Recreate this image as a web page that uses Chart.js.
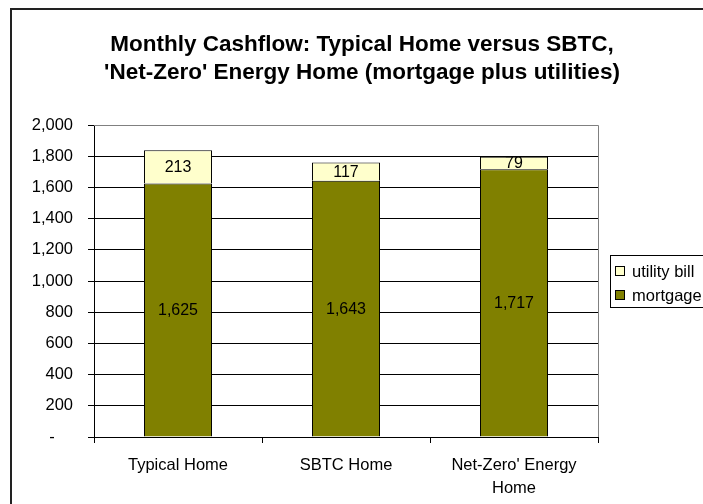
<!DOCTYPE html>
<html>
<head>
<meta charset="utf-8">
<script src="https://cdn.jsdelivr.net/npm/chart.js@4"></script>
<style>
  html, body { margin: 0; padding: 0; background: #fff; }
  #wrap { width: 703px; height: 504px; }
</style>
</head>
<body>
<div id="wrap"><canvas id="chart" width="703" height="504"></canvas></div>
<script>
const categories = ['Typical Home', 'SBTC Home', ["Net-Zero' Energy", 'Home']];
const mortgage = [1625, 1643, 1717];
const utilityBill = [213, 117, 79];
const titleLines = ["Monthly Cashflow: Typical Home versus SBTC,", "'Net-Zero' Energy Home (mortgage plus utilities)"];

const FONT = "'Liberation Sans', Arial, sans-serif";
Chart.defaults.font.family = FONT;
Chart.defaults.color = '#000';

// frame, title, legend and segment labels drawn by hand
const decor = {
  id: 'decor',
  beforeDraw(chart) {
    const ctx = chart.ctx;
    ctx.save();
    ctx.strokeStyle = '#222';
    ctx.lineWidth = 2;
    ctx.beginPath();
    ctx.moveTo(11, 520); ctx.lineTo(11, 9); ctx.lineTo(720, 9);
    ctx.stroke();
    ctx.fillStyle = '#000';
    ctx.font = 'bold 22.5px ' + FONT;
    ctx.textAlign = 'center';
    ctx.textBaseline = 'alphabetic';
    ctx.fillText(titleLines[0], 362, 51);
    ctx.fillText(titleLines[1], 362, 79);
    ctx.restore();
  },
  afterDatasetsDraw(chart) {
    const ctx = chart.ctx;
    const a = chart.chartArea;
    ctx.save();
    // plot area border (top + right in grey)
    ctx.strokeStyle = '#808080';
    ctx.lineWidth = 1;
    ctx.beginPath();
    ctx.moveTo(a.left, a.top + 0.5); ctx.lineTo(a.right + 0.5, a.top + 0.5); ctx.lineTo(a.right + 0.5, a.bottom);
    ctx.stroke();

    ctx.fillStyle = '#000';
    ctx.font = '16px ' + FONT;
    ctx.textAlign = 'center';
    ctx.textBaseline = 'middle';
    chart.data.datasets.forEach((ds, i) => {
      chart.getDatasetMeta(i).data.forEach((el, j) => {
        ctx.fillText(ds.data[j].toLocaleString('en-US'), el.x, (el.y + el.base) / 2 + 1);
      });
    });

    // legend (reverse order, like the stack)
    ctx.strokeStyle = '#000';
    ctx.fillStyle = '#fff';
    ctx.fillRect(610, 255, 110, 52);
    ctx.strokeRect(610.5, 255.5, 110, 52);
    ctx.font = '16.5px ' + FONT;
    ctx.textAlign = 'left';
    const items = chart.data.datasets.slice().reverse();
    items.forEach((ds, k) => {
      const cy = 271 + k * 24;
      ctx.fillStyle = ds.backgroundColor;
      ctx.fillRect(615.5, cy - 4.5, 9, 9);
      ctx.strokeRect(615.5, cy - 4.5, 9, 9);
      ctx.fillStyle = '#000';
      ctx.fillText(ds.label, 632, cy + 1);
    });
    ctx.restore();
  }
};

new Chart(document.getElementById('chart'), {
  type: 'bar',
  data: {
    labels: categories,
    datasets: [
      { label: 'mortgage', data: mortgage, backgroundColor: '#808000', borderColor: '#000', borderWidth: 1 },
      { label: 'utility bill', data: utilityBill, backgroundColor: '#FFFFCC', borderColor: '#000', borderWidth: 1 }
    ]
  },
  options: {
    responsive: false,
    animation: false,
    layout: { padding: { left: 0, top: 125, right: 105, bottom: 0 } },
    datasets: { bar: { categoryPercentage: 1, barPercentage: 0.405 } },
    scales: {
      x: {
        stacked: true,
        afterFit: s => { s.height = 67; },
        grid: { drawOnChartArea: false, drawTicks: true, tickLength: 6, tickColor: '#000', offset: true },
        border: { color: '#000', width: 1 },
        ticks: { font: { size: 16.5, lineHeight: 1.45 }, padding: 10, color: '#000', maxRotation: 0, autoSkip: false }
      },
      y: {
        stacked: true,
        min: 0,
        max: 2000,
        afterFit: s => { s.width = 94; },
        grid: {
          color: c => (c.tick && c.tick.value === 2000 ? '#808080' : '#000'),
          tickColor: '#000',
          tickLength: 6
        },
        border: { color: '#000', width: 1 },
        ticks: {
          stepSize: 200,
          padding: 15,
          font: { size: 16.5 },
          color: '#000',
          callback: v => (v === 0 ? '-    ' : v.toLocaleString('en-US'))
        }
      }
    },
    plugins: {
      legend: { display: false },
      title: { display: false },
      tooltip: { enabled: false }
    }
  },
  plugins: [decor]
});
</script>
</body>
</html>
